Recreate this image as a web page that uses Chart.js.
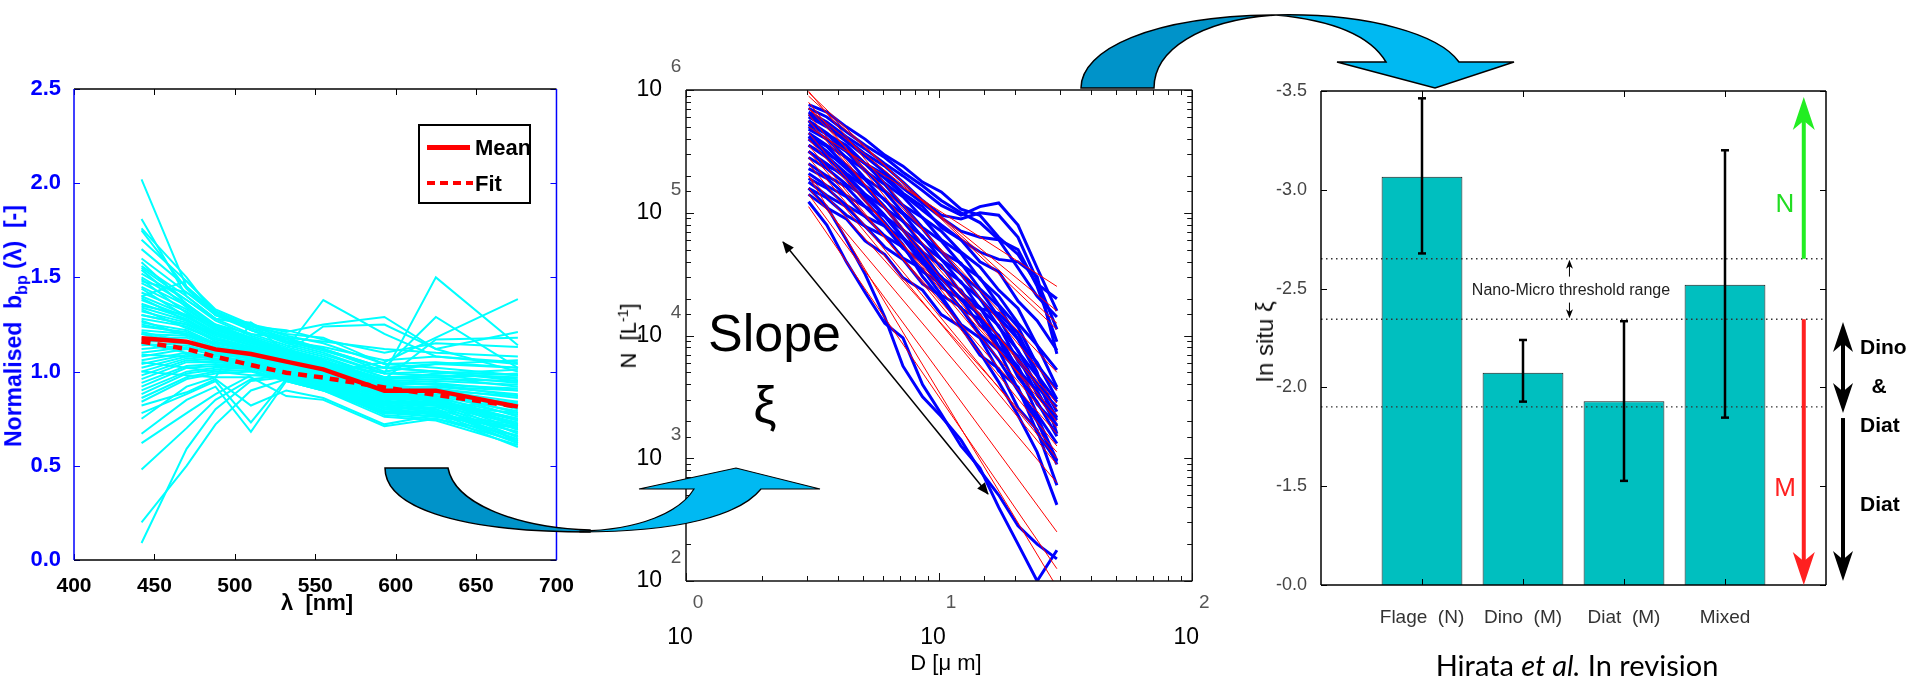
<!DOCTYPE html>
<html><head><meta charset="utf-8">
<script src="https://cdn.jsdelivr.net/npm/chart.js@4.4.1/dist/chart.umd.min.js"></script>
<style>
html,body{margin:0;padding:0;background:#fff;width:1915px;height:680px;overflow:hidden;position:relative;font-family:"Liberation Sans",Arial,sans-serif;}
canvas{position:absolute;}
.t{position:absolute;white-space:nowrap;line-height:1;}
.rot{transform:translate(-50%,-50%) rotate(-90deg);}
.c{transform:translate(-50%,-50%);}
.ml{transform:translate(0,-50%);}
</style></head><body>
<canvas id="c1" width="580" height="560" style="left:0;top:60px"></canvas>
<canvas id="c2" width="660" height="640" style="left:580px;top:40px"></canvas>
<canvas id="c3" width="675" height="630" style="left:1240px;top:50px"></canvas>

<!-- left panel texts -->
<div class="t rot" style="left:16px;top:326px;color:#0000ff;font-weight:bold;font-size:23px;">Normalised&nbsp; b<sub style="font-size:16px">bp</sub> (λ)&nbsp;&nbsp;[-]</div>
<div class="t c" style="left:317px;top:603px;font-weight:bold;font-size:22px;">λ&nbsp; [nm]</div>
<div style="position:absolute;left:418px;top:124px;width:109px;height:76px;border:2px solid #000;background:#fff;">
  <div style="position:absolute;left:7px;top:19px;width:43px;height:5px;background:#ff0000;"></div>
  <div class="t ml" style="left:55px;top:22px;font-weight:bold;font-size:22px;">Mean</div>
  <div style="position:absolute;left:7px;top:55px;width:46px;height:4px;background:repeating-linear-gradient(90deg,#ff0000 0 8px,transparent 8px 13px);"></div>
  <div class="t ml" style="left:55px;top:58px;font-weight:bold;font-size:22px;">Fit</div>
</div>

<!-- middle panel texts -->
<div class="t" style="left:708px;top:307px;font-size:52px;">Slope</div>
<div class="t c" style="left:765px;top:405px;font-size:52px;">ξ</div>
<div class="t rot" style="left:628px;top:336px;font-size:22px;">N&nbsp; [L<sup style="font-size:14px">-1</sup>]</div>
<div class="t c" style="left:946px;top:663px;font-size:22px;">D [μ m]</div>

<!-- right panel texts -->
<div class="t rot" style="left:1265px;top:342px;font-size:24px;color:#111;">In situ ξ</div>
<div class="t c" style="left:1571px;top:290px;font-size:16px;color:#222;">Nano-Micro threshold range</div>
<div class="t c" style="left:1785px;top:203px;font-size:26px;color:#22dd22;">N</div>
<div class="t c" style="left:1785px;top:487px;font-size:26px;color:#ff2020;">M</div>
<div class="t ml" style="left:1860px;top:346px;font-size:21px;font-weight:bold;">Dino</div>
<div class="t c" style="left:1879px;top:385px;font-size:21px;font-weight:bold;">&amp;</div>
<div class="t ml" style="left:1860px;top:424px;font-size:21px;font-weight:bold;">Diat</div>
<div class="t ml" style="left:1860px;top:503px;font-size:21px;font-weight:bold;">Diat</div>
<div class="t c" style="left:1577px;top:664px;font-size:29px;font-family:Lato,'Open Sans',sans-serif;">Hirata <i>et al.</i> In revision</div>

<svg width="1915" height="680" style="position:absolute;left:0;top:0;pointer-events:none">
  <defs>
    <marker id="ah" viewBox="0 0 12 10" refX="11" refY="5" markerWidth="13" markerHeight="10" orient="auto-start-reverse" markerUnits="userSpaceOnUse">
      <path d="M0 0 L12 5 L0 10 z" fill="#000"/>
    </marker>
  </defs>
  <line x1="783" y1="242" x2="988" y2="494" stroke="#000" stroke-width="1.5" marker-start="url(#ah)" marker-end="url(#ah)"/>
  <path d="M385,468 L448,468 C455,505 520,528 590,530 L590,532 C450,532 385,505 385,468 Z" fill="#0093c9" stroke="#000" stroke-width="1.5"/>
  <path d="M580,531 C640,530 680,512 694,489 L639,489 L736,468 L820,489 L761,489 C740,515 680,532 580,532 Z" fill="#00b9f2" stroke="#000" stroke-width="1.2"/>
  <path d="M1081,88 C1081,50 1150,16 1276,15 C1200,20 1154,50 1154,88 Z" fill="#0093c9" stroke="#000" stroke-width="1.5"/>
  <path d="M1276,15 C1370,13 1440,35 1459,62 L1514,62 L1435,88 L1337,62 L1386,62 C1370,35 1330,20 1276,15 Z" fill="#00b9f2" stroke="#000" stroke-width="1.5"/>
</svg>

<script>
// ---------------- Left panel data ----------------
const wavelengths = [442, 470, 488, 510, 532, 555, 593, 625, 676];
const xTicksNm = [400, 450, 500, 550, 600, 650, 700];
const yTicksBbp = [0, 0.5, 1.0, 1.5, 2.0, 2.5];
const meanBbp = [1.177, 1.159, 1.118, 1.093, 1.053, 1.012, 0.899, 0.899, 0.814];
const fitBbp  = [1.159, 1.120, 1.079, 1.035, 0.994, 0.968, 0.916, 0.876, 0.814];
const cyanSpectra = [
  [1.60,1.42,1.30,1.22,1.16,1.11,1.02,1.04,1.06],
  [1.56,1.40,1.28,1.20,1.14,1.09,0.99,1.00,0.98],
  [1.52,1.38,1.27,1.19,1.13,1.08,0.97,0.97,0.92],
  [1.50,1.36,1.25,1.18,1.12,1.06,0.93,0.91,0.80],
  [1.47,1.35,1.24,1.17,1.11,1.06,0.96,0.99,1.01],
  [1.45,1.33,1.23,1.16,1.10,1.05,0.91,0.89,0.76],
  [1.42,1.32,1.22,1.16,1.10,1.04,0.95,0.96,0.95],
  [1.40,1.30,1.21,1.15,1.09,1.04,0.90,0.86,0.72],
  [1.38,1.29,1.20,1.14,1.08,1.03,0.94,0.95,0.93],
  [1.36,1.28,1.19,1.14,1.08,1.03,0.89,0.85,0.69],
  [1.34,1.27,1.18,1.13,1.07,1.02,0.93,0.94,0.90],
  [1.32,1.26,1.18,1.13,1.07,1.02,0.88,0.84,0.67],
  [1.30,1.25,1.17,1.12,1.06,1.01,0.92,0.92,0.88],
  [1.28,1.24,1.16,1.12,1.06,1.01,0.87,0.83,0.65],
  [1.26,1.22,1.15,1.11,1.05,1.00,0.91,0.91,0.86],
  [1.24,1.21,1.15,1.11,1.05,1.00,0.86,0.82,0.63],
  [1.22,1.20,1.14,1.10,1.04,0.99,0.90,0.90,0.84],
  [1.20,1.19,1.13,1.10,1.04,0.99,0.85,0.80,0.62],
  [1.18,1.18,1.12,1.09,1.03,0.98,0.89,0.89,0.83],
  [1.16,1.16,1.12,1.09,1.03,0.98,0.84,0.79,0.64],
  [1.14,1.15,1.11,1.08,1.02,0.97,0.88,0.88,0.81],
  [1.12,1.14,1.10,1.08,1.02,0.97,0.83,0.78,0.66],
  [1.10,1.13,1.10,1.07,1.01,0.96,0.87,0.87,0.79],
  [1.08,1.12,1.09,1.07,1.01,0.96,0.82,0.78,0.68],
  [1.06,1.10,1.08,1.06,1.00,0.95,0.86,0.86,0.77],
  [1.04,1.09,1.07,1.06,1.00,0.95,0.81,0.77,0.70],
  [1.02,1.08,1.07,1.05,0.99,0.94,0.85,0.85,0.75],
  [1.00,1.07,1.06,1.05,0.99,0.94,0.80,0.77,0.72],
  [0.98,1.06,1.05,1.04,0.98,0.93,0.84,0.84,0.74],
  [0.96,1.05,1.05,1.04,0.98,0.93,0.79,0.76,0.71],
  [0.94,1.03,1.04,1.03,0.97,0.92,0.83,0.83,0.73],
  [0.92,1.02,1.03,1.03,0.97,0.92,0.78,0.76,0.70],
  [0.90,1.00,1.02,1.02,0.96,0.91,0.82,0.82,0.78],
  [0.88,0.99,1.01,1.02,0.96,0.91,0.77,0.75,0.66],
  [0.86,0.97,1.00,1.01,0.95,0.90,0.81,0.81,0.84],
  [0.84,0.96,0.99,1.00,0.95,0.90,0.76,0.74,0.61],
  [1.58,1.36,1.24,1.18,1.12,1.07,0.97,0.98,0.97],
  [1.54,1.34,1.23,1.17,1.11,1.06,0.95,0.93,0.87],
  [1.49,1.31,1.22,1.16,1.11,1.05,0.96,0.97,0.99],
  [1.44,1.29,1.21,1.15,1.10,1.05,0.93,0.90,0.82],
  [1.39,1.27,1.20,1.14,1.09,1.04,0.94,0.93,0.91],
  [1.33,1.23,1.17,1.13,1.08,1.03,0.92,0.89,0.78],
  [1.27,1.19,1.15,1.12,1.07,1.02,0.91,0.92,0.90],
  [1.21,1.16,1.13,1.11,1.06,1.01,0.90,0.87,0.74],
  [1.15,1.12,1.11,1.10,1.05,1.00,0.89,0.90,0.87],
  [1.09,1.08,1.09,1.08,1.04,0.99,0.87,0.85,0.71],
  [1.65,1.45,1.32,1.24,1.18,1.12,1.02,1.00,0.95],
  [1.70,1.48,1.33,1.25,1.19,1.15,1.04,1.02,0.98],
  [1.75,1.44,1.30,1.23,1.17,1.12,1.00,1.04,1.02],
  [1.81,1.40,1.28,1.26,1.16,1.13,1.06,1.08,1.05],
  [2.02,1.45,1.31,1.22,1.15,1.10,0.99,0.98,0.94],
  [1.76,1.50,1.30,1.24,1.20,1.18,1.04,1.05,1.02],
  [1.55,1.38,1.28,1.25,1.21,1.25,1.29,1.12,1.00],
  [1.30,1.25,1.20,1.16,1.12,1.38,1.20,1.08,1.04],
  [1.20,1.15,1.12,1.10,1.08,1.05,0.99,1.50,1.14],
  [1.05,1.02,1.00,0.98,0.97,1.02,1.02,1.29,1.02],
  [1.15,1.10,1.06,1.04,1.02,1.00,1.05,1.18,1.385],
  [1.25,1.20,1.15,1.12,1.10,1.24,1.25,1.12,1.21],
  [1.00,0.98,0.97,1.26,1.10,1.05,0.96,1.17,1.18],
  [0.09,0.59,0.80,0.95,0.97,0.94,0.84,0.82,0.72],
  [0.20,0.50,0.72,0.90,0.96,0.92,0.83,0.84,0.75],
  [0.48,0.70,0.85,0.96,0.98,0.93,0.80,0.81,0.70],
  [0.62,0.78,0.88,0.98,0.99,0.94,0.81,0.80,0.68],
  [0.67,0.85,0.92,0.68,0.95,0.90,0.78,0.78,0.62],
  [0.78,0.88,0.95,0.73,0.96,0.91,0.79,0.79,0.64],
  [0.82,0.89,0.96,0.82,0.90,0.86,0.72,0.77,0.60],
  [0.75,0.92,0.97,0.97,0.87,0.85,0.71,0.75,0.63],
  [1.40,1.48,1.32,1.22,1.16,1.12,1.02,1.00,0.96],
  [1.48,1.42,1.32,1.24,1.22,1.17,1.10,1.15,1.13],
  [1.35,1.30,1.25,1.20,1.18,1.16,1.12,1.10,1.08]
];

// ---------------- Middle panel data ----------------
const sizeD = [3.05, 3.6, 4.3, 5.1, 6.1, 7.2, 8.6, 10.2, 12.2, 14.5, 17.2, 20.5, 24.4, 29.2];
const psdLog10N = [
  [5.88,5.82,5.70,5.60,5.47,5.38,5.25,5.17,5.03,4.98,4.80,4.66,4.42,4.30],
  [5.85,5.78,5.66,5.55,5.45,5.33,5.22,5.10,5.00,4.92,4.78,4.55,4.32,4.15],
  [5.82,5.74,5.62,5.52,5.40,5.30,5.18,5.06,4.98,5.05,5.08,4.90,4.55,4.20],
  [5.80,5.72,5.60,5.48,5.38,5.25,5.10,4.98,4.95,5.00,4.98,4.80,4.45,4.05],
  [5.78,5.70,5.58,5.46,5.33,5.20,5.08,4.96,4.85,4.80,4.78,4.70,4.40,3.95],
  [5.75,5.64,5.55,5.40,5.31,5.16,5.05,4.88,4.78,4.60,4.52,4.28,4.12,3.88],
  [5.72,5.64,5.50,5.40,5.24,5.13,4.96,4.85,4.68,4.56,4.37,4.22,3.92,3.72],
  [5.70,5.60,5.50,5.34,5.23,5.06,4.96,4.78,4.67,4.46,4.32,4.10,3.92,3.58],
  [5.68,5.60,5.45,5.35,5.18,5.06,4.88,4.77,4.58,4.47,4.25,4.07,3.76,3.56],
  [5.65,5.55,5.45,5.28,5.17,5.00,4.87,4.68,4.59,4.38,4.24,3.97,3.78,3.48],
  [5.62,5.54,5.38,5.27,5.10,4.99,4.80,4.68,4.50,4.37,4.15,3.97,3.68,3.46],
  [5.60,5.48,5.39,5.22,5.11,4.93,4.81,4.62,4.50,4.30,4.14,3.87,3.67,3.38],
  [5.55,5.46,5.32,5.21,5.04,4.93,4.74,4.62,4.43,4.30,4.07,3.88,3.58,3.42],
  [5.50,5.38,5.31,5.15,5.04,4.86,4.74,4.55,4.44,4.22,4.08,3.79,3.61,3.33],
  [5.45,5.36,5.23,5.13,4.97,4.86,4.68,4.57,4.35,4.23,3.98,3.83,3.52,3.31],
  [5.40,5.30,5.21,5.05,4.97,4.79,4.68,4.47,4.37,4.14,4.00,3.72,3.55,3.26],
  [5.36,5.28,5.14,5.05,4.89,4.79,4.59,4.48,4.29,4.17,3.91,3.75,3.44,3.27],
  [5.32,5.22,5.13,4.97,4.89,4.71,4.60,4.39,4.30,4.08,3.97,3.66,3.46,3.18],
  [5.28,5.20,5.06,4.97,4.81,4.72,4.52,4.42,4.22,4.13,3.88,3.71,3.36,3.12],
  [5.25,5.14,5.05,4.89,4.81,4.63,4.54,4.33,4.23,4.01,3.88,3.56,3.34,2.98],
  [5.20,5.12,4.98,4.89,4.72,4.62,4.42,4.32,4.09,3.98,3.71,3.58,3.21,2.97],
  [5.15,5.04,4.95,4.77,4.66,4.47,4.37,4.17,4.07,3.84,3.73,3.41,3.23,2.78],
  [5.20,5.05,4.78,4.50,4.15,3.75,3.50,3.34,3.15,2.90,2.70,2.45,2.30,2.18],
  [5.09,4.90,4.60,4.35,4.10,3.98,3.60,3.36,3.10,2.92,2.60,2.30,2.00,2.25],
  [5.55,5.45,5.30,5.15,4.98,4.80,4.62,4.42,4.22,4.00,3.80,3.55,3.30,2.95],
  [5.75,5.65,5.52,5.40,5.28,5.15,5.02,4.90,4.78,4.68,4.62,4.60,4.48,3.85],
  [5.50,5.40,5.28,5.10,4.92,4.74,4.48,4.30,4.08,3.86,3.62,3.35,3.05,2.62],
  [5.62,5.50,5.36,5.22,5.05,4.86,4.64,4.46,4.30,4.22,4.18,4.02,3.70,3.20]
];
const fitD = [3.05, 29.2];
const fitLog10N = [
  [5.70,4.40],[5.85,4.20],[5.95,4.10],[5.98,4.05],[5.99,3.55],[5.90,3.40],
  [5.80,3.30],[5.75,3.45],[5.65,3.25],[5.60,3.35],[5.50,3.20],[5.45,3.00],
  [5.40,2.95],[5.30,3.05],[5.20,2.80],[5.15,2.40],[5.05,2.10],[5.30,1.95],
  [5.55,3.10],[5.85,3.70]
];

// ---------------- Right panel data ----------------
const groups = ['Flage  (N)', 'Dino  (M)', 'Diat  (M)', 'Mixed'];
const groupPos = [1, 2, 3, 4];
const xiMean = [-3.066, -2.074, -1.930, -2.519];
const xiErrLow = [-2.678, -1.928, -1.527, -1.847];
const xiErrHigh = [-3.463, -2.240, -2.335, -3.200];
const thresholds = [-2.651, -2.345, -1.901];
const xiTickValues = [-3.5, -3.0, -2.5, -2.0, -1.5, -1.0];
const xiTickLabels = ['-3.5', '-3.0', '-2.5', '-2.0', '-1.5', '-0.0'];
const nArrow = [-2.651, -3.47];
const mArrow = [-2.345, -1.0];
const dinoDiatArrow = [-2.331, -1.87];
const diatArrow = [-1.845, -1.02];

// ---------------- plugins ----------------
const frameTicks = {
  id: 'frameTicks',
  afterDatasetsDraw(chart, args, o) {
    const {ctx, chartArea: a} = chart;
    const xs = chart.scales.x, ys = chart.scales.y;
    ctx.save();
    ctx.lineWidth = o.tickWidth || 1;
    const seg = (x1, y1, x2, y2) => { ctx.beginPath(); ctx.moveTo(x1, y1); ctx.lineTo(x2, y2); ctx.stroke(); };
    xs.ticks.forEach(t => {
      const p = Math.round(xs.getPixelForValue(t.value)) + 0.5;
      const L = (o.minor && !t.major) ? o.minorLen : o.len;
      ctx.strokeStyle = o.xTickColor;
      seg(p, a.bottom, p, a.bottom - L);
      seg(p, a.top, p, a.top + L);
    });
    ys.ticks.forEach(t => {
      const p = Math.round(ys.getPixelForValue(t.value)) + 0.5;
      const L = (o.minor && !t.major) ? o.minorLen : o.len;
      ctx.strokeStyle = o.yTickColor;
      seg(a.left, p, a.left + L, p);
      seg(a.right, p, a.right - L, p);
    });
    ctx.lineWidth = o.frameWidth || 1.5;
    const f = o.frame;
    ctx.strokeStyle = f.top; seg(a.left, a.top, a.right, a.top);
    ctx.strokeStyle = f.bottom; seg(a.left, a.bottom, a.right, a.bottom);
    ctx.strokeStyle = f.left; seg(a.left, a.top, a.left, a.bottom);
    ctx.strokeStyle = f.right; seg(a.right, a.top, a.right, a.bottom);
    ctx.restore();
  }
};

const exponents = {
  id: 'exponents',
  afterDraw(chart) {
    const {ctx, chartArea: a} = chart;
    const xs = chart.scales.x, ys = chart.scales.y;
    ctx.save();
    ctx.font = '19px "Liberation Sans", Arial';
    ctx.fillStyle = '#555';
    ctx.textAlign = 'center';
    ctx.textBaseline = 'middle';
    ys.ticks.filter(t => t.major).forEach(t => {
      ctx.fillText(String(Math.round(Math.log10(t.value))), a.left - 10, ys.getPixelForValue(t.value) - 23);
    });
    xs.ticks.filter(t => t.major).forEach(t => {
      ctx.fillText(String(Math.round(Math.log10(t.value))), xs.getPixelForValue(t.value) + 12, a.bottom + 22);
    });
    ctx.restore();
  }
};

function head(ctx, x, y, dir, w, h) {
  ctx.beginPath();
  ctx.moveTo(x, y);
  ctx.lineTo(x - w / 2, y - dir * h);
  ctx.lineTo(x, y - dir * h * 0.72);
  ctx.lineTo(x + w / 2, y - dir * h);
  ctx.closePath();
  ctx.fill();
}
function vArrow(ctx, x, yFrom, yTo, color, lw, w, h, both) {
  ctx.strokeStyle = color; ctx.fillStyle = color; ctx.lineWidth = lw;
  const dir = yTo > yFrom ? 1 : -1;
  const s = both ? yFrom + dir * h * 0.7 : yFrom;
  const e = yTo - dir * h * 0.7;
  ctx.beginPath(); ctx.moveTo(x, s); ctx.lineTo(x, e); ctx.stroke();
  head(ctx, x, yTo, dir, w, h);
  if (both) head(ctx, x, yFrom, -dir, w, h);
}

const xiAnnot = {
  id: 'xiAnnot',
  afterDatasetsDraw(chart) {
    const {ctx, chartArea: a} = chart;
    const xs = chart.scales.x, ys = chart.scales.y;
    ctx.save();
    const xa = xs.getPixelForValue(4.78);
    vArrow(ctx, xa, ys.getPixelForValue(nArrow[0]), ys.getPixelForValue(nArrow[1]), '#22ee22', 4, 22, 33, false);
    vArrow(ctx, xa, ys.getPixelForValue(mArrow[0]), ys.getPixelForValue(mArrow[1]), '#ff2020', 4, 22, 33, false);
    const xb = a.right + 17;
    vArrow(ctx, xb, ys.getPixelForValue(dinoDiatArrow[0]), ys.getPixelForValue(dinoDiatArrow[1]), '#000', 4, 20, 30, true);
    vArrow(ctx, xb, ys.getPixelForValue(diatArrow[0]), ys.getPixelForValue(diatArrow[1]), '#000', 4, 20, 30, false);
    const xn = xs.getPixelForValue(2.46);
    const ym = ys.getPixelForValue(-2.5);
    vArrow(ctx, xn, ym - 12, ys.getPixelForValue(thresholds[0]) + 1, '#000', 1, 7, 9, false);
    vArrow(ctx, xn, ym + 14, ys.getPixelForValue(thresholds[1]) - 1, '#000', 1, 7, 9, false);
    ctx.restore();
  }
};

const common = {responsive: false, animation: false, events: [], plugins: {legend: {display: false}, tooltip: {enabled: false}}};

// ---------------- Left chart ----------------
new Chart(document.getElementById('c1'), {
  type: 'line',
  data: {datasets: [
    {data: wavelengths.map((w, i) => ({x: w, y: meanBbp[i]})), borderColor: '#ff0000', borderWidth: 4.5, pointRadius: 0},
    {data: wavelengths.map((w, i) => ({x: w, y: fitBbp[i]})), borderColor: '#ff0000', borderWidth: 4.5, borderDash: [9, 7], pointRadius: 0},
    ...cyanSpectra.map(s => ({data: wavelengths.map((w, i) => ({x: w, y: s[i]})), borderColor: '#00ffff', borderWidth: 2, pointRadius: 0}))
  ]},
  options: {
    ...common,
    layout: {padding: {top: 29, right: 20, left: 0, bottom: 0}},
    plugins: {...common.plugins, frameTicks: {frame: {top: '#000', bottom: '#000', left: '#0000ff', right: '#0000ff'}, xTickColor: '#000', yTickColor: '#0000ff', len: 6, frameWidth: 1.5}},
    scales: {
      x: {type: 'linear', min: 400, max: 700,
          afterBuildTicks: s => { s.ticks = xTicksNm.map(v => ({value: v})); },
          ticks: {color: '#000', font: {family: '"Liberation Sans", Arial', size: 21, weight: 'bold'}, padding: 6, maxRotation: 0, autoSkip: false},
          grid: {display: false}, border: {display: false},
          afterFit: s => { s.height = 60; }},
      y: {type: 'linear', min: 0, max: 2.5,
          afterBuildTicks: s => { s.ticks = yTicksBbp.map(v => ({value: v})); },
          ticks: {color: '#0000ff', font: {family: '"Liberation Sans", Arial', size: 22, weight: 'bold'}, padding: 5, callback: v => v.toFixed(1)},
          grid: {display: false}, border: {display: false},
          afterFit: s => { s.width = 74; }}
    }
  },
  plugins: [frameTicks]
});

// ---------------- Middle chart ----------------
new Chart(document.getElementById('c2'), {
  type: 'line',
  data: {datasets: [
    ...fitLog10N.map(r => ({data: fitD.map((d, i) => ({x: d, y: Math.pow(10, r[i])})), borderColor: '#ff0000', borderWidth: 1, pointRadius: 0})),
    ...psdLog10N.map(r => ({data: sizeD.map((d, i) => ({x: d, y: Math.pow(10, r[i])})), borderColor: '#0000ff', borderWidth: 3, pointRadius: 0}))
  ]},
  options: {
    ...common,
    layout: {padding: {top: 50, right: 26, left: 0, bottom: 0}},
    plugins: {...common.plugins, frameTicks: {frame: {top: '#111', bottom: '#111', left: '#111', right: '#111'}, xTickColor: '#111', yTickColor: '#111', len: 8, minorLen: 5, minor: true, frameWidth: 1.5}},
    scales: {
      x: {type: 'logarithmic', min: 1, max: 100,
          ticks: {color: '#000', font: {family: '"Liberation Sans", Arial', size: 23}, padding: 35, labelOffset: -6, maxRotation: 0, autoSkip: false,
                  callback: (v, i, t) => t[i].major ? '10' : ''},
          grid: {display: false}, border: {display: false},
          afterFit: s => { s.height = 99; }},
      y: {type: 'logarithmic', min: 100, max: 1000000,
          ticks: {color: '#000', font: {family: '"Liberation Sans", Arial', size: 23}, padding: 16, autoSkip: false,
                  callback: (v, i, t) => t[i].major ? '10' : ''},
          grid: {display: false}, border: {display: false},
          afterFit: s => { s.width = 106; }}
    }
  },
  plugins: [frameTicks, exponents]
});

// ---------------- Right chart ----------------
new Chart(document.getElementById('c3'), {
  type: 'bar',
  data: {datasets: [
    ...thresholds.map(t => ({type: 'line', data: [{x: 0, y: t}, {x: 5, y: t}], borderColor: '#333', borderWidth: 1.3, borderDash: [1.5, 3.5], pointRadius: 0, order: 1})),
    ...groupPos.map((p, i) => ({type: 'line', data: [{x: p, y: xiErrLow[i]}, {x: p, y: xiErrHigh[i]}], borderColor: '#000', borderWidth: 2.5,
        pointStyle: 'line', pointRadius: 4, pointBorderWidth: 2.5, pointBorderColor: '#000', order: 1})),
    {type: 'bar', data: groupPos.map((p, i) => ({x: p, y: xiMean[i]})), base: -1.0, backgroundColor: '#00bfbf', borderColor: '#1a1a1a', borderWidth: 1,
     categoryPercentage: 0.8, barPercentage: 1.0, order: 2}
  ]},
  options: {
    ...common,
    layout: {padding: {top: 41, right: 89, left: 0, bottom: 0}},
    plugins: {...common.plugins, frameTicks: {frame: {top: '#000', bottom: '#000', left: '#000', right: '#000'}, xTickColor: '#000', yTickColor: '#000', len: 6, frameWidth: 1.5}},
    scales: {
      x: {type: 'linear', min: 0, max: 5, offset: false,
          afterBuildTicks: s => { s.ticks = groupPos.map(v => ({value: v})); },
          ticks: {color: '#333', font: {family: '"Liberation Sans", Arial', size: 19}, padding: 13, maxRotation: 0, autoSkip: false,
                  callback: (v, i) => groups[i]},
          grid: {display: false}, border: {display: false},
          afterFit: s => { s.height = 95; }},
      y: {type: 'linear', min: -3.5, max: -1.0, reverse: true,
          afterBuildTicks: s => { s.ticks = xiTickValues.map(v => ({value: v})); },
          ticks: {color: '#444', font: {family: '"Liberation Sans", Arial', size: 18}, padding: 6, callback: (v, i) => xiTickLabels[i]},
          grid: {display: false}, border: {display: false},
          afterFit: s => { s.width = 81; }}
    }
  },
  plugins: [frameTicks, xiAnnot]
});
</script>
</body></html>
